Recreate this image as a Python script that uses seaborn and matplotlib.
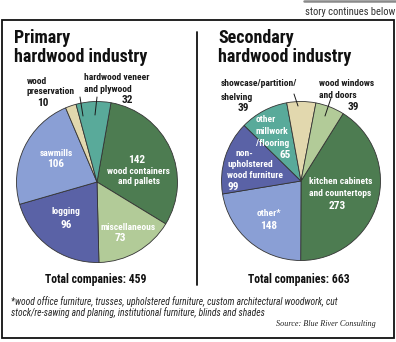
import os
import matplotlib
matplotlib.use("Agg")
import matplotlib.pyplot as plt
import matplotlib.font_manager as fm
import seaborn as sns
from matplotlib.patches import Rectangle
from matplotlib.lines import Line2D

sns.set_theme(style="white")
plt.rcParams['font.family'] = ['DejaVu Sans']

# ---- data ----
primary_labels = ["wood containers and pallets", "miscellaneous", "logging",
                  "sawmills", "wood preservation", "hardwood veneer and plywood"]
primary_values = [142, 73, 96, 106, 10, 32]
primary_total = 459

secondary_labels = ["kitchen cabinets and countertops", "other*",
                    "non-upholstered wood furniture", "other millwork/flooring",
                    "showcase/partition/shelving", "wood windows and doors"]
secondary_values = [273, 148, 99, 65, 39, 39]
secondary_total = 663

DARK_GREEN = "#4d7c51"
LIGHT_GREEN = "#b2cb98"
DARK_BLUE = "#5a62a6"
LIGHT_BLUE = "#8a9fd5"
BEIGE = "#e2d8ae"
TEAL = "#59aa9a"

primary_colors = [DARK_GREEN, LIGHT_GREEN, DARK_BLUE, LIGHT_BLUE, BEIGE, TEAL]
secondary_colors = [DARK_GREEN, LIGHT_BLUE, DARK_BLUE, TEAL, BEIGE, LIGHT_GREEN]


# ---- fonts: prefer condensed faces if installed ----
def find_font(patterns, fallback):
    names = [(os.path.basename(f.fname).lower(), f.fname) for f in fm.fontManager.ttflist]
    for pat in patterns:
        for base, path in names:
            if base.startswith(pat.lower()):
                return fm.FontProperties(fname=path)
    return fm.FontProperties(**fallback)


FP_BOLD = find_font(["LiberationSansNarrow-Bold.", "RobotoCondensed-Bold.",
                     "DejaVuSansCondensed-Bold.", "OpenSansCondensed-Bold.",
                     "Roboto-Bold.", "LiberationSans-Bold."],
                    dict(family="DejaVu Sans", weight="bold"))
FP_REG = find_font(["LiberationSansNarrow-Regular.", "RobotoCondensed-Regular.",
                    "DejaVuSansCondensed.", "Roboto-Regular.", "LiberationSans-Regular."],
                   dict(family="DejaVu Sans"))
FP_ITAL = find_font(["LiberationSansNarrow-Italic.", "RobotoCondensed-Italic.",
                     "DejaVuSansCondensed-Oblique.", "Roboto-Italic.",
                     "LiberationSans-Italic."],
                    dict(family="DejaVu Sans", style="italic"))
FP_SERIF_IT = find_font(["LiberationSerif-Italic.", "DejaVuSerif-Italic."],
                        dict(family="DejaVu Serif", style="italic"))

W, H = 396, 342
fig = plt.figure(figsize=(W / 100, H / 100), dpi=100)
fig.patch.set_facecolor("white")
renderer = fig.canvas.get_renderer()


def fx(x):
    return x / W


def fy(y):
    return 1 - y / H


def fit_size(s, fp, target):
    t = fig.text(0, 0, s, fontproperties=fp, fontsize=10)
    w = t.get_window_extent(renderer).width
    t.remove()
    return 10 * target / w


def txt(x, y, s, fp, size, color="#1a1a1a", ha="center"):
    fig.text(fx(x), fy(y), s, fontproperties=fp, fontsize=size, color=color,
             ha=ha, va="center")


def line(x0, y0, x1, y1, color="#1a1a1a", lw=0.7):
    fig.add_artist(Line2D([fx(x0), fx(x1)], [fy(y0), fy(y1)], color=color,
                          lw=lw, transform=fig.transFigure))


S_TITLE = fit_size("hardwood industry", FP_BOLD, 134)
S_LAB = fit_size("hardwood veneer", FP_BOLD, 65)
S_NUM = fit_size("000000", FP_BOLD, 34)
S_TOT = fit_size("Total companies: 459", FP_BOLD, 102)
S_FOOT = fit_size("*wood office furniture, trusses, upholstered furniture, custom "
                  "architectural woodwork, cut", FP_ITAL, 326)
S_SRC = fit_size("Source: Blue River Consulting", FP_SERIF_IT, 100)
S_STORY = fit_size("story continues below", FP_REG, 90)

# frame
fig.add_artist(Rectangle((fx(1.5), fy(337.5)), 392.5 / W, (337.5 - 20) / H,
                         fill=False, edgecolor="#111111", lw=1.3,
                         transform=fig.transFigure))
line(197, 32, 197, 285, color="#111111", lw=1.3)
line(304, 1, 396, 1, color="#8a8a8a", lw=1.8)
txt(395, 12, "story continues below", FP_REG, S_STORY, color="#333333", ha="right")


def draw_pie(cx, cy, r, values, colors, start):
    ax = fig.add_axes([fx(cx - r), fy(cy + r), 2 * r / W, 2 * r / H])
    ax.pie(values, colors=colors, startangle=start, counterclock=False,
           wedgeprops=dict(edgecolor="#333333", linewidth=0.6))
    ax.set_xlim(-1.0, 1.0)
    ax.set_ylim(-1.0, 1.0)
    ax.set_aspect("auto")
    ax.axis("off")
    return ax


draw_pie(97, 182, 80.5, primary_values, primary_colors, 80)
draw_pie(301, 181, 79.5, secondary_values, secondary_colors, 58)

# titles
txt(14, 38, "Primary", FP_BOLD, S_TITLE, color="#111111", ha="left")
txt(14, 57, "hardwood industry", FP_BOLD, S_TITLE, color="#111111", ha="left")
txt(218, 38, "Secondary", FP_BOLD, S_TITLE, color="#111111", ha="left")
txt(218, 57, "hardwood industry", FP_BOLD, S_TITLE, color="#111111", ha="left")

WHITE = "white"
# primary outside labels
txt(27, 81, "wood", FP_BOLD, S_LAB, ha="left")
txt(27, 92, "preservation", FP_BOLD, S_LAB, ha="left")
txt(42.5, 103, str(primary_values[4]), FP_BOLD, S_NUM)
line(80, 97, 83, 116)
txt(84, 77, "hardwood veneer", FP_BOLD, S_LAB, ha="left")
txt(84, 89, "and plywood", FP_BOLD, S_LAB, ha="left")
txt(127.5, 100, str(primary_values[5]), FP_BOLD, S_NUM)
line(97, 97, 95, 115)
# primary inside labels
txt(56.5, 153, "sawmills", FP_BOLD, S_LAB, WHITE)
txt(56, 164, str(primary_values[3]), FP_BOLD, S_NUM, WHITE)
txt(137, 160, str(primary_values[0]), FP_BOLD, S_NUM, WHITE)
txt(138, 171, "wood containers", FP_BOLD, S_LAB, WHITE)
txt(138.5, 182, "and pallets", FP_BOLD, S_LAB, WHITE)
txt(66, 212, "logging", FP_BOLD, S_LAB, WHITE)
txt(66.5, 225, str(primary_values[2]), FP_BOLD, S_NUM, WHITE)
txt(128.5, 227, "miscellaneous", FP_BOLD, S_LAB, WHITE)
txt(120.5, 238, str(primary_values[1]), FP_BOLD, S_NUM, WHITE)
txt(96, 280, f"Total companies: {primary_total}", FP_BOLD, S_TOT, color="#111111")

# secondary outside labels
txt(221, 84, "showcase/partition/", FP_BOLD, S_LAB, ha="left")
txt(221, 97, "shelving", FP_BOLD, S_LAB, ha="left")
txt(243.5, 108, str(secondary_values[4]), FP_BOLD, S_NUM)
line(294, 94, 298, 106)
txt(319, 84, "wood windows", FP_BOLD, S_LAB, ha="left")
txt(319, 96, "and doors", FP_BOLD, S_LAB, ha="left")
txt(353.5, 107, str(secondary_values[5]), FP_BOLD, S_NUM)
line(331, 98, 325, 116)
# secondary inside labels
txt(266, 120, "other", FP_BOLD, S_LAB, WHITE)
txt(271.5, 132, "millwork", FP_BOLD, S_LAB, WHITE)
txt(273, 143, "/flooring", FP_BOLD, S_LAB, WHITE)
txt(285, 155, str(secondary_values[3]), FP_BOLD, S_NUM, WHITE)
txt(235, 153, "non-", FP_BOLD, S_LAB, WHITE, ha="left")
txt(227, 165, "upholstered", FP_BOLD, S_LAB, WHITE, ha="left")
txt(227, 176, "wood furniture", FP_BOLD, S_LAB, WHITE, ha="left")
txt(227, 187, str(secondary_values[2]), FP_BOLD, S_NUM, WHITE, ha="left")
txt(340.5, 182, "kitchen cabinets", FP_BOLD, S_LAB, WHITE)
txt(340.5, 193, "and countertops", FP_BOLD, S_LAB, WHITE)
txt(337.5, 206, str(secondary_values[0]), FP_BOLD, S_NUM, WHITE)
txt(268.5, 214, "other*", FP_BOLD, S_LAB, WHITE)
txt(268.5, 226, str(secondary_values[1]), FP_BOLD, S_NUM, WHITE)
txt(299, 279, f"Total companies: {secondary_total}", FP_BOLD, S_TOT, color="#111111")

# footnote & source
txt(11, 302, "*wood office furniture, trusses, upholstered furniture, custom "
    "architectural woodwork, cut", FP_ITAL, S_FOOT, color="#222222", ha="left")
txt(11, 313, "stock/re-sawing and planing, institutional furniture, blinds and shades",
    FP_ITAL, S_FOOT, color="#222222", ha="left")
txt(376, 324, "Source: Blue River Consulting", FP_SERIF_IT, S_SRC,
    color="#222222", ha="right")

fig.savefig("out.png", dpi=100, facecolor="white")
